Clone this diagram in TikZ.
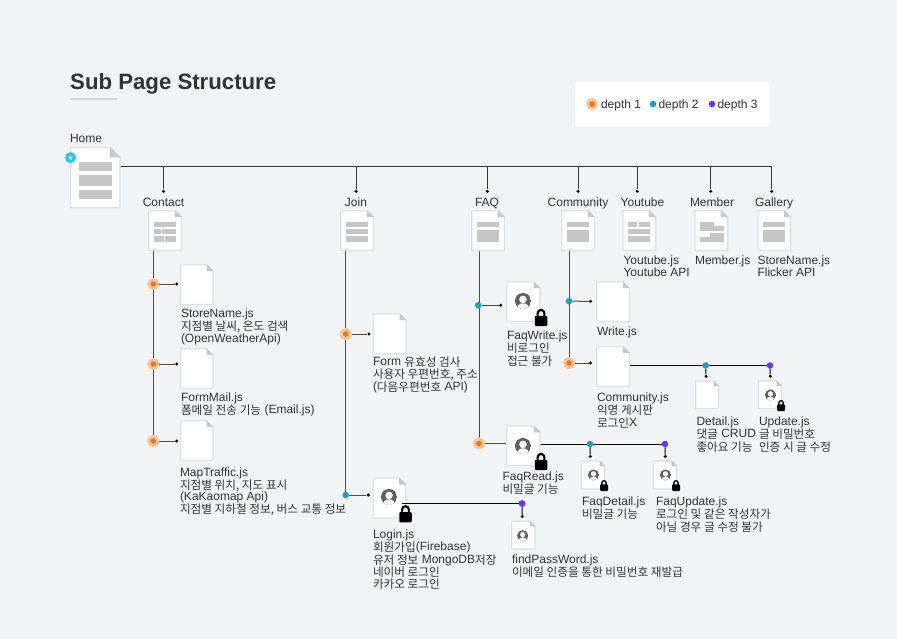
\documentclass[tikz,border=0pt]{standalone}
\usepackage{fontspec}
\setmainfont{Liberation Sans}
\newfontfamily\krfont{Noto Sans CJK KR}[Scale=0.97]
\newcommand\K[1]{\raisebox{-0.8pt}{\krfont #1}}
\usetikzlibrary{backgrounds}
\lineskiplimit=-20pt
\normallineskiplimit=-20pt
\definecolor{bgc}{HTML}{F1F3F5}
\definecolor{ink}{HTML}{333333}
\definecolor{edgec}{HTML}{DFE0E2}
\definecolor{foldc}{HTML}{C8C8C8}
\definecolor{barc}{HTML}{C6C6C6}
\definecolor{orangec}{HTML}{F9700F}
\definecolor{haloc}{HTML}{F8C4A0}
\definecolor{tealc}{HTML}{1B9EC4}
\definecolor{purplec}{HTML}{6236FF}
\definecolor{starc}{HTML}{2EC4F0}
\definecolor{avac}{HTML}{5F5F5F}
\tikzset{
  x=1pt,y=-1pt,
  docbox/.style={inner sep=0pt,outer sep=0pt,draw=none},
  bar/.style={fill=barc},
  txt/.style={anchor=north west,yshift=-1pt,inner sep=0pt,outer sep=0pt,align=left,text=ink,
     font=\fontsize{12}{12.3}\selectfont},
  ctr/.style={anchor=base,inner sep=0pt,outer sep=0pt,text=ink,
     font=\fontsize{12}{12.3}\selectfont},
  trunk/.style={draw=ink,line width=1pt},
  vert/.style={draw=black!70,line width=1pt},
  conn/.style={draw=black,line width=1pt},
  tipdot/.style={circle,fill=black,inner sep=0pt,minimum size=3.4pt},
  d1/.style={circle,fill=orangec,draw=haloc,line width=3pt,inner sep=0pt,minimum size=9pt},
  d2/.style={circle,fill=tealc,inner sep=0pt,minimum size=6.5pt},
  d3/.style={circle,fill=purplec,inner sep=0pt,minimum size=6.5pt},
}
% name, left, top, right, bottom, fold
\newcommand\docnode[6]{%
  \node[docbox,minimum width=#4pt-#2pt,minimum height=#5pt-#3pt] (#1) at ({(#2+#4)/2},{(#3+#5)/2}) {};
  \draw[edgec,line width=1.3pt,fill=white,line join=round] (#2,#3) -- ({#4-#6},#3) -- (#4,{#3+#6}) -- (#4,#5) -- (#2,#5) -- cycle;
  \fill[foldc] ({#4-#6},{#3-.6}) -- ({#4+.6},{#3+#6}) -- ({#4-#6},{#3+#6}) -- cycle;
}
\newcommand\avatar[3]{% x y r
  \begin{scope}
    \clip (#1,#2) circle[radius=#3];
    \fill[avac] (#1,#2) circle[radius=#3];
    \fill[bgc!60!white] (#1,{#2-0.2*#3}) circle[radius=0.48*#3];
    \fill[bgc!60!white] (#1,{#2+1.0*#3}) ellipse[x radius=0.78*#3,y radius=0.72*#3];
  \end{scope}
}
\newcommand\lockicon[3]{% x(center) y(bottom) w
  \draw[black,line width=0.17*#3] ({#1-0.27*#3},{#2-0.62*#3}) -- ({#1-0.27*#3},{#2-1.02*#3}) arc[start angle=180,end angle=360,radius=0.27*#3] -- ({#1+0.27*#3},{#2-0.62*#3});
  \fill[black,rounded corners=1pt] ({#1-0.5*#3},{#2-0.82*#3}) rectangle ({#1+0.5*#3},#2);
}
\begin{document}
\begin{tikzpicture}
\useasboundingbox (0,0) rectangle (897,639);
\begin{scope}[on background layer]
  \fill[bgc] (0,0) rectangle (897,639);
\end{scope}

% title
\node[anchor=base west,inner sep=0pt,text=ink,font=\fontsize{22.2}{24}\selectfont\bfseries] (title) at (70,90) {Sub Page Structure};
\fill[edgec!95!black] (70,98) rectangle (117,99.6);

% legend
\node[fill=white,inner sep=0pt,minimum width=195pt,minimum height=45pt] (legend) at (672.5,104.5) {};
\node[d1] (l1) at (592,104) {};
\node[d2] (l2) at (653,104) {};
\node[d3] (l3) at (712,104) {};
\node[ctr,anchor=base west] (lt1) at (601,108.2) {depth 1};
\node[ctr,anchor=base west] (lt2) at (658.5,108.2) {depth 2};
\node[ctr,anchor=base west] (lt3) at (717.5,108.2) {depth 3};

% home
\node[ctr,anchor=base west] (homel) at (70,142.2) {Home};
\docnode{home}{70.5}{147.5}{120}{207.8}{10}
\fill[bar] (79,162) rectangle (112,171);
\fill[bar] (79,175) rectangle (112,186);
\fill[bar] (79,190) rectangle (112,199);
\node[circle,fill=starc,inner sep=0pt,minimum size=11pt] (star) at (70.5,157.5) {};
\node[text=white,inner sep=0pt,font=\fontsize{7}{7}\selectfont] (starg) at (70.5,157.5) {\fontspec{DejaVu Sans}★};

% trunk junctions
\coordinate (jc) at (163.5,166.5);
\coordinate (jj) at (356,166.5);
\coordinate (jf) at (487.3,166.5);
\coordinate (jm) at (578,166.5);
\coordinate (jy) at (637.3,166.5);
\coordinate (jb) at (710.7,166.5);
\coordinate (jg) at (771.7,166.5);
\foreach \a/\b in {tc/jc,tj/jj,tf/jf,tm/jm,ty/jy,tb/jb,tg/jg}{\node[tipdot] (\a) at ([yshift=-24.8pt]\b) {};}

% section labels
\node[ctr] (cl) at (163.5,206.2) {Contact};
\node[ctr] (jl) at (356,206.2) {Join};
\node[ctr] (fl) at (487,206.2) {FAQ};
\node[ctr] (ml) at (578,206.2) {Community};
\node[ctr] (yl) at (642.5,206.2) {Youtube};
\node[ctr] (bl) at (712,206.2) {Member};
\node[ctr] (gl) at (774,206.2) {Gallery};

% depth-one docs
\docnode{contact}{148.7}{210.7}{181.5}{250.5}{6.5}
\fill[bar] (154,222) rectangle (176,227);
\fill[bar] (154,229) rectangle (161,234);
\fill[bar] (162,229) rectangle (176,234);
\fill[bar] (154,236) rectangle (164,242);
\fill[bar] (165,236) rectangle (176,242);

\docnode{join}{340.7}{210.7}{373.5}{250.5}{6.5}
\fill[bar] (346,222) rectangle (368,227);
\fill[bar] (346,229) rectangle (368,234);
\fill[bar] (346,236) rectangle (368,242);

\docnode{faq}{471.7}{210.7}{504.5}{250.5}{6.5}
\fill[bar] (477,222) rectangle (499,227);
\fill[bar] (477,230) rectangle (499,242);

\docnode{comm}{561.7}{210.7}{594.5}{250.5}{6.5}
\fill[bar] (567,222) rectangle (589,227);
\fill[bar] (567,230) rectangle (589,242);

\docnode{you}{622.9}{210.7}{655.7}{250.5}{6.5}
\fill[bar] (628,222) rectangle (637,227);
\fill[bar] (639,222) rectangle (650,227);
\fill[bar] (628,229) rectangle (650,234);
\fill[bar] (628,236) rectangle (650,242);

\docnode{memb}{694.9}{210.7}{727.7}{250.5}{6.5}
\fill[bar] (700,222) rectangle (714,231);
\fill[bar] (714,226) rectangle (724,231);
\fill[bar] (710,233) rectangle (724,237.5);
\fill[bar] (700,237) rectangle (724,242);

\docnode{gall}{757.9}{210.7}{790.7}{250.5}{6.5}
\fill[bar] (763,222) rectangle (785,227);
\fill[bar] (763,230) rectangle (785,242);

\node[txt] (ytx) at (623.5,255) {Youtube.js\\Youtube API};
\node[txt] (mtx) at (695,255) {Member.js};
\node[txt] (gtx) at (757.5,255) {StoreName.js\\Flicker API};

% contact branch
\docnode{store}{180.5}{264.7}{213}{304.5}{6.5}
\docnode{form}{180.5}{348.7}{213}{388.5}{6.5}
\docnode{traf}{180.5}{420.7}{213}{460.5}{6.5}
\node[d1] (o1) at (153.2,284) {};
\node[d1] (o2) at (153.2,364) {};
\node[d1] (o3) at (153.2,441) {};
\node[tipdot] (p1) at (176.7,284) {};
\node[tipdot] (p2) at (176.7,364) {};
\node[tipdot] (p3) at (176.7,441) {};
\node[txt] (t1) at (181,308) {StoreName.js\\\K{지점별 날씨, 온도 검색}\\(OpenWeatherApi)};
\node[txt] (t2) at (181,392) {FormMail.js\\\K{폼메일 전송 기능} (Email.js)};
\node[txt] (t3) at (180,466.5) {MapTraffic.js\\\K{지점별 위치, 지도 표시}\\(KaKaomap Api)\\\K{지점별 지하철 정보, 버스 교통 정보}};

% join branch
\docnode{fdoc}{373.5}{313.7}{406}{353.5}{6.5}
\docnode{login}{373.5}{478}{405.7}{518}{6.5}
\avatar{389}{497}{8}
\node[d1] (o4) at (345.7,334) {};
\node[d2] (o5) at (345.7,495) {};
\node[tipdot] (p4) at (369,334) {};
\node[tipdot] (p5) at (368.3,495) {};
\node[txt] (t4) at (373,356) {Form \K{유효성 검사}\\\K{사용자 우편번호, 주소}\\(\K{다음우편번호} API)};
\node[txt] (t5) at (373,529) {Login.js\\\K{회원가입}(Firebase)\\\K{유저 정보} MongoDB\K{저장}\\\K{네이버 로그인}\\\K{카카오 로그인}};
\node[d3] (o6) at (522,503.5) {};
\node[tipdot] (p6) at (522.3,516.5) {};
\docnode{find}{511.7}{521.2}{535}{549}{5}
\avatar{522.7}{535.7}{5.6}
\node[txt] (t6) at (512,554) {findPassWord.js\\\K{이메일 인증을 통한 비밀번호 재발급}};

% faq branch
\docnode{fwr}{506.7}{281.7}{540}{321.5}{6.5}
\avatar{523}{301}{8}
\lockicon{541}{326}{12.5}
\node[d2] (o7) at (478.2,305.3) {};
\node[tipdot] (p7) at (500.7,305.3) {};
\node[txt] (t7) at (507,330) {FaqWrite.js\\\K{비로그인}\\\K{접근 불가}};
\docnode{frd}{506.7}{425.9}{540}{465.5}{6.5}
\avatar{523}{446}{8}
\lockicon{541}{470}{12.5}
\node[d1] (o8) at (479,443.5) {};
\node[txt] (t8) at (502.5,471) {FaqRead.js\\\K{비밀글 기능}};
\node[d2] (o9) at (590,444) {};
\node[d3] (o10) at (665,444) {};
\node[tipdot] (p9) at (590.3,456.5) {};
\node[tipdot] (p10) at (665.3,456.5) {};
\docnode{fdt}{581.5}{460.9}{604.5}{489}{5}
\avatar{593.5}{475}{5.6}
\lockicon{604}{491}{8}
\docnode{fup}{653.5}{460.9}{676.5}{489}{5}
\avatar{665.5}{475}{5.6}
\lockicon{676}{491}{8}
\node[txt] (t9) at (582,496) {FaqDetail.js\\\K{비밀글 기능}};
\node[txt] (t10) at (656,496) {FaqUpdate.js\\\K{로그인 및 같은 작성자가}\\\K{아닐 경우 글 수정 불가}};

% community branch
\docnode{wrt}{596.7}{281.7}{629.5}{321.5}{6.5}
\docnode{cjs}{596.7}{346.7}{629.5}{386.5}{6.5}
\node[d2] (o11) at (569,301.2) {};
\node[d1] (o12) at (569,363) {};
\node[tipdot] (p11) at (590.5,301.3) {};
\node[tipdot] (p12) at (590.5,363) {};
\node[txt] (t11) at (597,326) {Write.js};
\node[txt] (t12) at (597,392) {Community.js\\\K{익명 게시판}\\\K{로그인}X};
\node[d2] (o13) at (705.7,365.5) {};
\node[d3] (o14) at (770,365.5) {};
\node[tipdot] (p13) at (706,376.3) {};
\node[tipdot] (p14) at (770.3,376.3) {};
\docnode{det}{695.7}{380.9}{718.5}{408.5}{5}
\docnode{upd}{758.7}{380.9}{781.5}{408.5}{5}
\avatar{770.5}{395}{5.6}
\lockicon{781}{411}{8}
\node[txt] (t13) at (696.5,416) {Detail.js\\\K{댓글} CRUD\\\K{좋아요 기능}};
\node[txt] (t14) at (759,416) {Update.js\\\K{글 비밀번호}\\\K{인증 시 글 수정}};

% connectors
\begin{pgfonlayer}{background}
  \draw[trunk] (home.east |- jc) -- (jg);
  \foreach \a/\b in {jc/tc,jj/tj,jf/tf,jm/tm,jy/ty,jb/tb,jg/tg}{\draw[trunk] (\a) -- (\b);}
  \draw[vert] (contact.south -| o1) -- (o3);
  \draw[vert] (join.south -| o4) -- (o5);
  \draw[vert] (faq.south -| o8) -- (o8);
  \draw[vert] (comm.south -| o11) -- (o12);
  \foreach \a/\b in {o1/p1,o2/p2,o3/p3,o4/p4,o5/p5,o7/p7,o11/p11,o12/p12}{\draw[vert] (\a) -- (\b);}
  \draw[vert] (o8) -- (frd.west |- o8);
  \draw[conn] (frd.east |- o10) -- (o10);
  \draw[conn] (o9) -- (p9);
  \draw[conn] (o10) -- (p10);
  \draw[conn] (cjs.east |- o14) -- (o14);
  \draw[conn] (o13) -- (p13);
  \draw[conn] (o14) -- (p14);
  \draw[conn] (o6) -- (p6);
\end{pgfonlayer}
\draw[conn] ([xshift=-4pt]login.east |- o6) -- (o6);
\node[d3] (o6b) at (o6) {};
\lockicon{405.5}{522.3}{12.5}
\end{tikzpicture}
\end{document}
